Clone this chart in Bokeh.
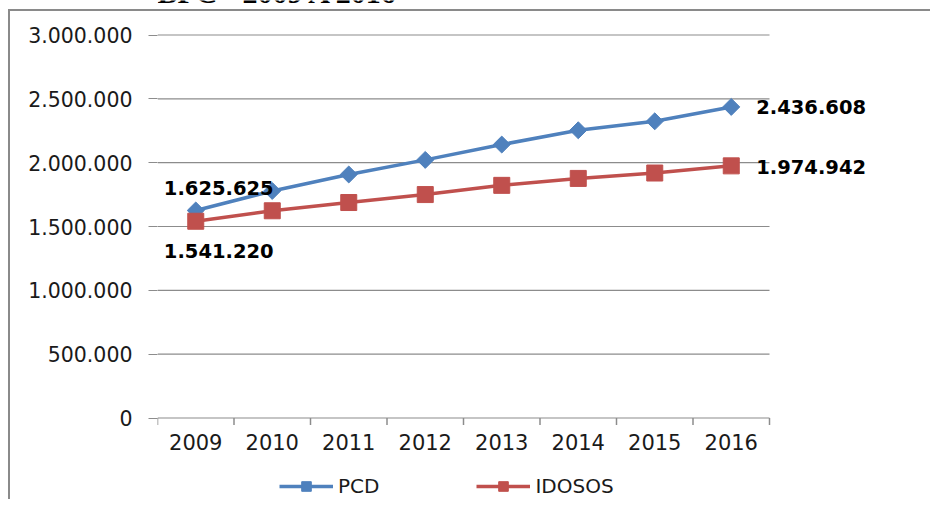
from bokeh.plotting import figure
from bokeh.models import (Range1d, SingleIntervalTicker, CustomJSTickFormatter,
                          Legend, LegendItem)
from bokeh.core.properties import value
from bokeh.embed import file_html
from bokeh.resources import INLINE
import math

# ---- data ----
title_text = "BPC - 2009 A 2016"
years = ["2009", "2010", "2011", "2012", "2013", "2014", "2015", "2016"]
pcd = [1625625, 1778345, 1907511, 2021721, 2141846, 2253822, 2323808, 2436608]
idosos = [1541220, 1623196, 1687826, 1750121, 1822346, 1876610, 1918918, 1974942]
series_names = ["PCD", "IDOSOS"]
y_max = 3000000
y_step = 500000

BLUE = "#4F81BD"
RED = "#C0504D"
GRID = "#8c8c8c"
TXT = "#1a1a1a"
FONT = "DejaVu Sans"

# ---- layout (pixels) ----
W, H = 930, 499
LEFT = 157                 # plot-area left edge
PLOT_W = 612               # plot-area width
PLOT_TOP, PLOT_BOTTOM = 34.5, 417.5

n = len(years)
xs = [i + 0.5 for i in range(n)]          # category centres
bounds = list(range(n + 1))                # category boundaries
yt = list(range(0, y_max + 1, y_step))     # value gridlines

frame_w = W - LEFT
x_end = n * frame_w / PLOT_W
ppu = (PLOT_BOTTOM - PLOT_TOP) / y_max
y_start = -(H - PLOT_BOTTOM) / ppu
y_end = y_max + PLOT_TOP / ppu

p = figure(width=W, height=H, output_backend="svg", toolbar_location=None,
           x_range=Range1d(0, x_end), y_range=Range1d(y_start, y_end),
           x_axis_location=None, y_axis_location="left",
           min_border_left=LEFT, min_border_right=0,
           min_border_top=0, min_border_bottom=0)
p.outline_line_color = None
p.background_fill_alpha = 0
p.border_fill_alpha = 0
p.styles = {"background": "linear-gradient(#8a8a8a, #8a8a8a) 8px 9px / 2px 100% no-repeat, "
                          "linear-gradient(#8a8a8a, #8a8a8a) 8px 9px / 100% 2px no-repeat, #ffffff"}
p.xgrid.grid_line_color = None
p.ygrid.grid_line_color = None

# y axis
yax = p.yaxis[0]
yax.bounds = (0, y_max)
yax.ticker = SingleIntervalTicker(interval=y_step, num_minor_ticks=0)
yax.formatter = CustomJSTickFormatter(code="""
    return Math.round(tick).toString().replace(/\\B(?=(\\d{3})+(?!\\d))/g, '.');
""")
yax.axis_line_color = None
yax.major_tick_out = 9
yax.major_tick_in = 0
yax.major_tick_line_color = GRID
yax.major_tick_line_width = 1.2
yax.minor_tick_line_color = None
yax.major_label_text_font = FONT
yax.major_label_text_font_size = "20.5px"
yax.major_label_text_color = TXT
yax.major_label_standoff = 16

# gridlines (the one at 0 doubles as the category axis line)
p.segment(x0=[0] * len(yt), x1=[n] * len(yt), y0=yt, y1=yt,
          line_color=GRID, line_width=1.2)
# category boundary tick marks
p.ray(x=bounds, y=[0] * len(bounds), length=7, length_units="screen",
      angle=-math.pi / 2, line_color=GRID, line_width=1.5)
# category labels
p.text(x=xs, y=[0] * n, text=years, y_offset=24, text_align="center",
       text_baseline="alphabetic", text_font=value(FONT), text_font_size="21px",
       text_color=TXT)

# cropped title at the very top
p.text(x=[0], y=[y_max], text=[title_text], x_offset=0, y_offset=-43,
       text_align="left", text_baseline="alphabetic",
       text_font=value("Liberation Serif"), text_font_style="bold",
       text_font_size="30px", text_color="black")

# series
l1 = p.line(xs, pcd, line_color=BLUE, line_width=3.5)
m1 = p.scatter(xs, pcd, marker="square", angle=math.pi / 4, size=12,
               fill_color=BLUE, line_color=BLUE)
l2 = p.line(xs, idosos, line_color=RED, line_width=3.5)
m2 = p.scatter(xs, idosos, marker="square", size=16,
               fill_color=RED, line_color=RED)

def fmt(v):
    return f"{v:,}".replace(",", ".")

lab_kw = dict(text_font=value(FONT), text_font_size="19.5px",
              text_font_style="bold", text_color="black", text_baseline="middle")
p.text(x=[xs[0], xs[0]], y=[pcd[0], idosos[0]], text=[fmt(pcd[0]), fmt(idosos[0])],
       x_offset=23, y_offset=[-22, 30], text_align="center", **lab_kw)
p.text(x=[xs[-1], xs[-1]], y=[pcd[-1], idosos[-1]], text=[fmt(pcd[-1]), fmt(idosos[-1])],
       x_offset=25, y_offset=[0, 1], text_align="left", **lab_kw)

legend = Legend(items=[LegendItem(label=series_names[0], renderers=[l1, m1]),
                       LegendItem(label=series_names[1], renderers=[l2, m2])],
                orientation="horizontal", location=(122, 1),
                glyph_width=54, glyph_height=24, label_height=24,
                label_standoff=5, spacing=97, padding=0, margin=0,
                border_line_color=None, background_fill_alpha=0,
                label_text_font=FONT, label_text_font_size="20px",
                label_text_color=TXT)
p.add_layout(legend, "center")

open("out.html", "w").write(file_html(p, INLINE))
